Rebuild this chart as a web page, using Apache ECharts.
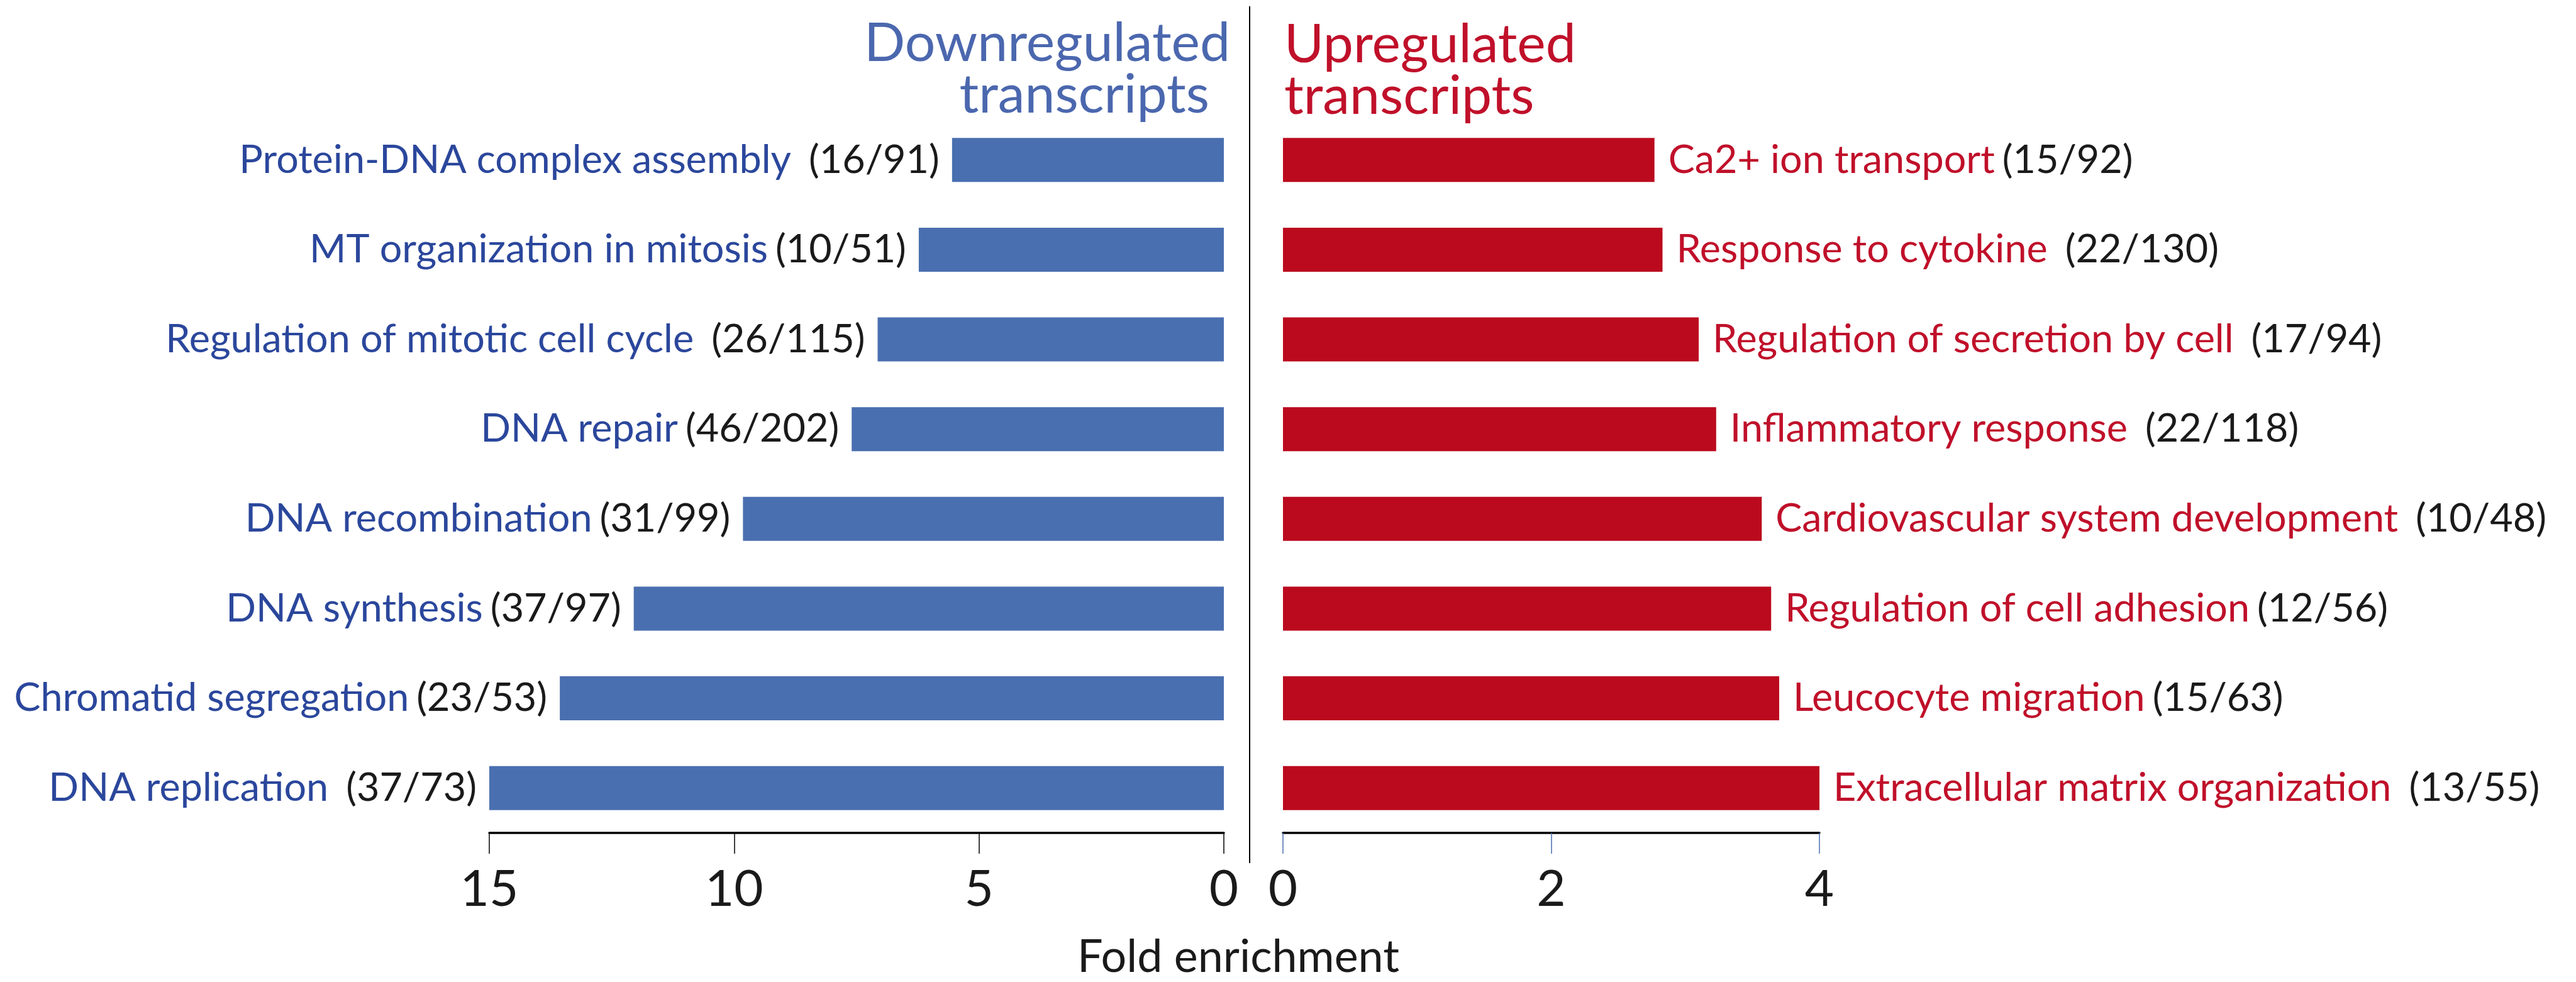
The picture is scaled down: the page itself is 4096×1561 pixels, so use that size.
<!DOCTYPE html>
<html>
<head>
<meta charset="utf-8">
<script src="https://cdn.jsdelivr.net/npm/echarts@6/dist/echarts.min.js"></script>
<style>
  html, body { margin: 0; padding: 0; background: #ffffff; }
  #chart { width: 4096px; height: 1561px; }
</style>
</head>
<body>
<div id="chart"></div>
<script>
// GO terms enriched among down- and up-regulated transcripts (top to bottom)
const downTerms = ['Protein-DNA complex assembly', 'MT organization in mitosis', 'Regulation of mitotic cell cycle', 'DNA repair', 'DNA recombination', 'DNA synthesis', 'Chromatid segregation', 'DNA replication'];
const downCounts = ['(16/91)', '(10/51)', '(26/115)', '(46/202)', '(31/99)', '(37/97)', '(23/53)', '(37/73)'];
const downFold = [5.55, 6.23, 7.07, 7.60, 9.82, 12.05, 13.56, 15.0];

const upTerms = ['Ca2+ ion transport', 'Response to cytokine', 'Regulation of secretion by cell', 'Inflammatory response', 'Cardiovascular system development', 'Regulation of cell adhesion', 'Leucocyte migration', 'Extracellular matrix organization'];
const upCounts = ['(15/92)', '(22/130)', '(17/94)', '(22/118)', '(10/48)', '(12/56)', '(15/63)', '(13/55)'];
const upFold = [2.77, 2.83, 3.10, 3.23, 3.57, 3.64, 3.70, 4.04];

// axis ticks
const downTickValues = [0, 5, 10, 15];
const upTickValues = [0, 2, 4];

// terms typeset with a wider gap before the gene count
const wideGapTerms = ['Protein-DNA complex assembly', 'Regulation of mitotic cell cycle', 'DNA replication',
  'Response to cytokine', 'Regulation of secretion by cell', 'Inflammatory response',
  'Cardiovascular system development', 'Extracellular matrix organization'];

const FONT = 'Lato';
const BLUE_BAR = '#4a6fb0', BLUE_TEXT = '#2b479c', BLUE_TITLE = '#4b67ae';
const RED_BAR = '#bb0a1e', RED_TEXT = '#c0102a';
const INK = '#1a1a1a';

// size text so that a sample string spans a given width
const mctx = document.createElement('canvas').getContext('2d');
function fitSize(text, width) {
  mctx.font = '100px ' + FONT;
  return 100 * width / mctx.measureText(text).width;
}
const labelSize = fitSize('Cardiovascular system development', 990);
const titleSize = fitSize('Downregulated', 582);
const foldSize = fitSize('Fold enrichment', 512);
const tickSize = 80;

function labelText(terms, counts, nameStyle) {
  return function (p) {
    const i = p.dataIndex;
    const countStyle = wideGapTerms.indexOf(terms[i]) >= 0 ? 'cw' : 'c';
    return '{' + nameStyle + '|' + terms[i] + '}{' + countStyle + '|' + counts[i] + '}';
  };
}

const rich = {
  dn: { color: BLUE_TEXT, fontSize: labelSize, fontFamily: FONT },
  up: { color: RED_TEXT, fontSize: labelSize, fontFamily: FONT },
  c: { color: INK, fontSize: labelSize, fontFamily: FONT, padding: [0, 0, 0, 12] },
  cw: { color: INK, fontSize: labelSize, fontFamily: FONT, padding: [0, 0, 0, 28] }
};

const gridTop = 183, gridHeight = 1141;

function valueAxis(grid, ticks, inverse, tickColor) {
  return {
    type: 'value', gridIndex: grid, position: 'bottom', inverse: inverse,
    min: ticks[0], max: ticks[ticks.length - 1], interval: ticks[1] - ticks[0],
    axisLine: { show: true, onZero: false, lineStyle: { color: '#000', width: 3.5 } },
    axisTick: { show: true, length: 33, lineStyle: { color: tickColor, width: 1.5 } },
    axisLabel: { show: true, margin: 50, fontSize: tickSize, fontFamily: FONT, color: INK },
    splitLine: { show: false }
  };
}

function categoryAxis(grid, terms) {
  return {
    type: 'category', gridIndex: grid, data: terms, inverse: true,
    axisLine: { show: false }, axisTick: { show: false }, axisLabel: { show: false }
  };
}

const chart = echarts.init(document.getElementById('chart'), null, { renderer: 'canvas' });
chart.setOption({
  animation: false,
  backgroundColor: '#ffffff',
  textStyle: { fontFamily: FONT },
  grid: [
    { left: 778, width: 1168, top: gridTop, height: gridHeight },
    { left: 2040, width: 853, top: gridTop, height: gridHeight }
  ],
  xAxis: [
    valueAxis(0, downTickValues, true, '#000'),
    valueAxis(1, upTickValues, false, BLUE_BAR)
  ],
  yAxis: [categoryAxis(0, downTerms), categoryAxis(1, upTerms)],
  series: [
    {
      name: 'Downregulated', type: 'bar', xAxisIndex: 0, yAxisIndex: 0,
      data: downFold, barWidth: 70, itemStyle: { color: BLUE_BAR },
      label: { show: true, position: 'left', distance: 20, formatter: labelText(downTerms, downCounts, 'dn'), rich: rich }
    },
    {
      name: 'Upregulated', type: 'bar', xAxisIndex: 1, yAxisIndex: 1,
      data: upFold, barWidth: 70, itemStyle: { color: RED_BAR },
      label: { show: true, position: 'right', distance: 22, formatter: labelText(upTerms, upCounts, 'up'), rich: rich }
    }
  ],
  graphic: [
    { type: 'line', shape: { x1: 1987, y1: 10, x2: 1987, y2: 1372 }, style: { stroke: '#000', lineWidth: 2 } },
    { type: 'text', x: 1956, y: 95 - 0.3 * titleSize, style: { text: 'Downregulated', fill: BLUE_TITLE, fontSize: titleSize, fontFamily: FONT, align: 'right', verticalAlign: 'middle' } },
    { type: 'text', x: 1923, y: 177 - 0.3 * titleSize, style: { text: 'transcripts', fill: BLUE_TITLE, fontSize: titleSize, fontFamily: FONT, align: 'right', verticalAlign: 'middle' } },
    { type: 'text', x: 2042, y: 97 - 0.3 * titleSize, style: { text: 'Upregulated', fill: RED_TEXT, fontSize: titleSize, fontFamily: FONT, align: 'left', verticalAlign: 'middle' } },
    { type: 'text', x: 2042, y: 179 - 0.3 * titleSize, style: { text: 'transcripts', fill: RED_TEXT, fontSize: titleSize, fontFamily: FONT, align: 'left', verticalAlign: 'middle' } },
    { type: 'text', x: 1969, y: 1522, style: { text: 'Fold enrichment', fill: INK, fontSize: foldSize, fontFamily: FONT, align: 'center', verticalAlign: 'middle' } }
  ]
});
</script>
</body>
</html>
